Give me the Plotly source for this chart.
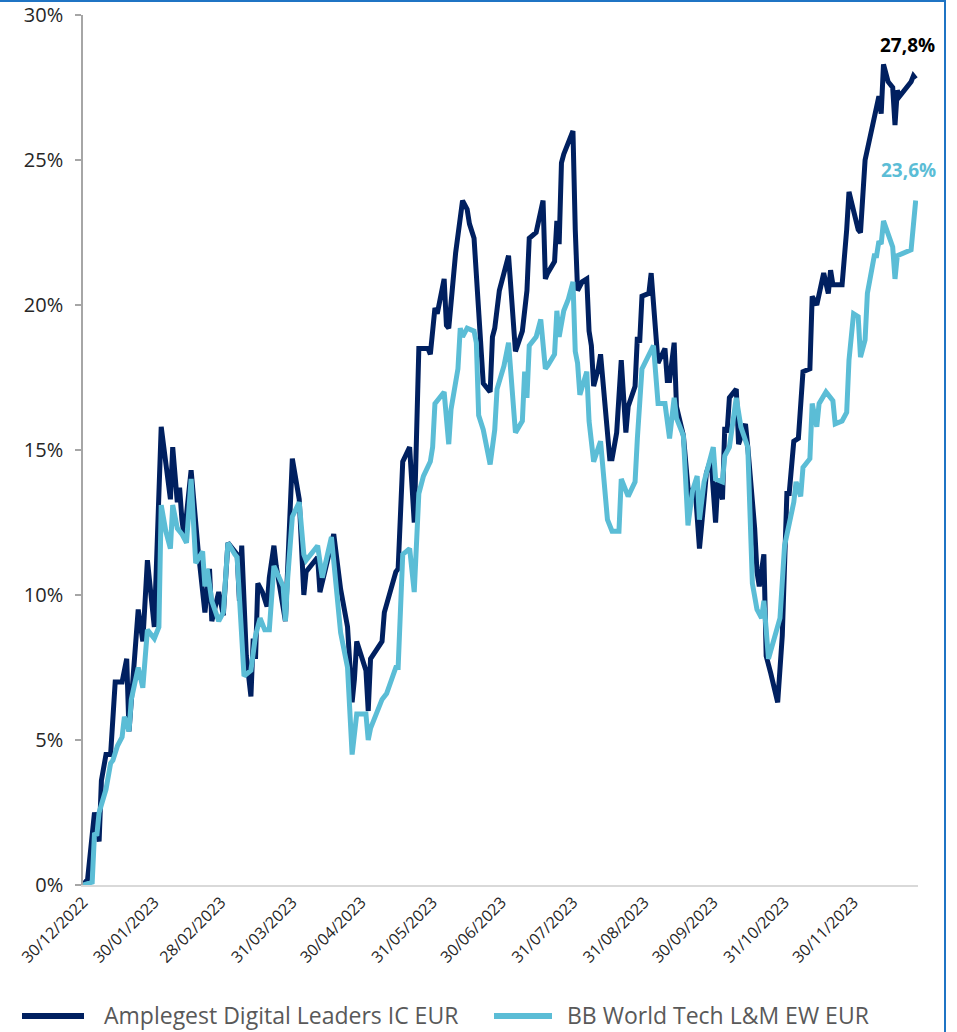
import plotly.graph_objects as go

# ---------------- data ----------------
dark_name = "Amplegest Digital Leaders IC EUR"
light_name = "BB World Tech L&M EW EUR"

dark_dates = [
    "2022-12-30", "2023-01-01", "2023-01-04", "2023-01-06", "2023-01-07", "2023-01-09", "2023-01-11",
    "2023-01-13", "2023-01-16", "2023-01-18", "2023-01-19", "2023-01-23", "2023-01-25", "2023-01-27",
    "2023-01-30", "2023-02-02", "2023-02-06", "2023-02-07", "2023-02-09", "2023-02-10", "2023-02-11",
    "2023-02-12", "2023-02-15", "2023-02-18", "2023-02-21", "2023-02-23", "2023-02-24", "2023-02-27",
    "2023-03-01", "2023-03-03", "2023-03-07", "2023-03-08", "2023-03-09", "2023-03-11", "2023-03-13",
    "2023-03-14", "2023-03-15", "2023-03-16", "2023-03-18", "2023-03-20", "2023-03-21", "2023-03-23",
    "2023-03-24", "2023-03-28", "2023-03-31", "2023-04-03", "2023-04-05", "2023-04-06", "2023-04-11",
    "2023-04-12", "2023-04-18", "2023-04-21", "2023-04-24", "2023-04-26", "2023-04-27", "2023-04-28",
    "2023-05-02", "2023-05-03", "2023-05-04", "2023-05-09", "2023-05-10", "2023-05-15", "2023-05-16",
    "2023-05-18", "2023-05-21", "2023-05-23", "2023-05-25", "2023-05-29", "2023-05-30", "2023-06-01",
    "2023-06-02", "2023-06-05", "2023-06-06", "2023-06-07", "2023-06-10", "2023-06-13", "2023-06-15",
    "2023-06-16", "2023-06-18", "2023-06-19", "2023-06-21", "2023-06-22", "2023-06-25", "2023-06-26",
    "2023-06-27", "2023-06-29", "2023-07-01", "2023-07-03", "2023-07-06", "2023-07-08", "2023-07-09",
    "2023-07-11", "2023-07-12", "2023-07-15", "2023-07-18", "2023-07-19", "2023-07-20", "2023-07-23",
    "2023-07-24", "2023-07-25", "2023-07-26", "2023-07-27", "2023-07-31", "2023-08-01", "2023-08-02",
    "2023-08-04", "2023-08-06", "2023-08-07", "2023-08-08", "2023-08-09", "2023-08-11", "2023-08-12",
    "2023-08-16", "2023-08-17", "2023-08-19", "2023-08-21", "2023-08-23", "2023-08-24", "2023-08-27",
    "2023-08-28", "2023-08-29", "2023-08-30", "2023-09-02", "2023-09-03", "2023-09-05", "2023-09-06",
    "2023-09-09", "2023-09-10", "2023-09-11", "2023-09-13", "2023-09-14", "2023-09-17", "2023-09-19",
    "2023-09-21", "2023-09-22", "2023-09-24", "2023-09-26", "2023-09-27", "2023-09-29", "2023-10-01",
    "2023-10-02", "2023-10-04", "2023-10-05", "2023-10-06", "2023-10-07", "2023-10-10", "2023-10-11",
    "2023-10-14", "2023-10-15", "2023-10-18", "2023-10-19", "2023-10-20", "2023-10-22", "2023-10-23",
    "2023-10-25", "2023-10-28", "2023-10-30", "2023-10-31", "2023-11-01", "2023-11-02", "2023-11-04",
    "2023-11-06", "2023-11-08", "2023-11-11", "2023-11-12", "2023-11-14", "2023-11-16", "2023-11-17",
    "2023-11-19", "2023-11-20", "2023-11-21", "2023-11-25", "2023-11-27", "2023-11-28", "2023-12-02",
    "2023-12-03", "2023-12-05", "2023-12-10", "2023-12-11", "2023-12-12", "2023-12-13", "2023-12-15",
    "2023-12-17", "2023-12-18", "2023-12-19", "2023-12-20", "2023-12-25", "2023-12-26", "2023-12-27",
]
dark_values = [
    0.0, 0.2, 2.5, 1.5, 3.6, 4.5, 4.5,
    7.0, 7.0, 7.8, 5.3, 9.5, 8.4, 11.2,
    8.9, 15.8, 13.3, 15.1, 13.2, 13.7, 12.6,
    12.0, 14.3, 11.6, 9.4, 10.9, 9.1, 10.1,
    9.3, 11.8, 11.4, 9.8, 11.7, 7.9, 6.5,
    8.5, 7.8, 10.4, 10.1, 9.6, 10.6, 11.7,
    11.0, 9.1, 14.7, 13.3, 10.0, 10.8, 11.3,
    10.1, 12.1, 10.2, 8.9, 6.3, 7.1, 8.4,
    7.4, 6.0, 7.8, 8.4, 9.4, 10.8, 10.9,
    14.6, 15.1, 12.5, 18.5, 18.5, 18.3, 19.9,
    19.7, 20.9, 19.3, 19.2, 21.8, 23.6, 23.3,
    22.8, 22.3, 20.9, 18.7, 17.3, 17.0, 18.9,
    19.2, 20.5, 21.1, 21.7, 18.4, 18.9, 19.1,
    20.5, 22.3, 22.5, 23.6, 20.9, 21.1, 21.5,
    22.9, 22.1, 24.9, 25.2, 26.0, 22.6, 20.5,
    20.8, 20.9, 19.1, 18.6, 17.2, 17.8, 18.3,
    14.7, 14.7, 15.6, 18.1, 15.6, 16.5, 17.2,
    18.9, 18.7, 20.3, 20.4, 21.1, 18.8, 18.0,
    18.5, 17.4, 17.4, 18.7, 16.5, 15.5, 13.7,
    13.3, 13.8, 11.6, 13.3, 14.2, 14.7, 12.5,
    13.9, 13.3, 15.8, 15.6, 16.8, 17.1, 15.2,
    15.9, 15.1, 12.3, 10.8, 10.3, 11.4, 7.9,
    7.3, 6.3, 8.6, 11.8, 13.5, 13.5, 15.3,
    15.4, 17.7, 17.8, 20.3, 20.0, 20.8, 21.1,
    20.4, 21.2, 20.7, 20.7, 22.6, 23.9, 22.6,
    22.5, 25.0, 26.8, 27.2, 26.6, 28.3, 27.7,
    27.5, 26.2, 27.4, 27.2, 27.7, 27.9, 27.8,
]

light_dates = [
    "2022-12-30", "2023-01-03", "2023-01-04", "2023-01-05", "2023-01-06", "2023-01-09", "2023-01-11",
    "2023-01-12", "2023-01-14", "2023-01-16", "2023-01-17", "2023-01-19", "2023-01-20", "2023-01-23",
    "2023-01-25", "2023-01-27", "2023-01-30", "2023-02-01", "2023-02-02", "2023-02-04", "2023-02-06",
    "2023-02-07", "2023-02-09", "2023-02-11", "2023-02-13", "2023-02-15", "2023-02-17", "2023-02-20",
    "2023-02-21", "2023-02-22", "2023-02-24", "2023-02-27", "2023-03-01", "2023-03-03", "2023-03-06",
    "2023-03-07", "2023-03-10", "2023-03-13", "2023-03-15", "2023-03-17", "2023-03-19", "2023-03-21",
    "2023-03-23", "2023-03-27", "2023-03-28", "2023-03-29", "2023-03-31", "2023-04-03", "2023-04-05",
    "2023-04-06", "2023-04-11", "2023-04-13", "2023-04-17", "2023-04-19", "2023-04-21", "2023-04-24",
    "2023-04-26", "2023-04-28", "2023-05-02", "2023-05-03", "2023-05-04", "2023-05-09", "2023-05-11",
    "2023-05-15", "2023-05-16", "2023-05-18", "2023-05-21", "2023-05-23", "2023-05-25", "2023-05-27",
    "2023-05-30", "2023-05-31", "2023-06-01", "2023-06-05", "2023-06-07", "2023-06-08", "2023-06-11",
    "2023-06-12", "2023-06-13", "2023-06-15", "2023-06-18", "2023-06-19", "2023-06-20", "2023-06-22",
    "2023-06-25", "2023-06-27", "2023-06-28", "2023-07-01", "2023-07-03", "2023-07-06", "2023-07-09",
    "2023-07-10", "2023-07-11", "2023-07-12", "2023-07-15", "2023-07-17", "2023-07-19", "2023-07-20",
    "2023-07-23", "2023-07-24", "2023-07-25", "2023-07-27", "2023-07-29", "2023-07-31", "2023-08-01",
    "2023-08-02", "2023-08-03", "2023-08-06", "2023-08-07", "2023-08-09", "2023-08-12", "2023-08-15",
    "2023-08-17", "2023-08-20", "2023-08-21", "2023-08-24", "2023-08-27", "2023-08-28", "2023-08-30",
    "2023-09-04", "2023-09-05", "2023-09-06", "2023-09-09", "2023-09-11", "2023-09-13", "2023-09-14",
    "2023-09-17", "2023-09-19", "2023-09-21", "2023-09-23", "2023-09-24", "2023-09-26", "2023-09-30",
    "2023-10-01", "2023-10-04", "2023-10-05", "2023-10-07", "2023-10-10", "2023-10-12", "2023-10-15",
    "2023-10-17", "2023-10-19", "2023-10-21", "2023-10-22", "2023-10-24", "2023-10-26", "2023-10-29",
    "2023-10-31", "2023-11-04", "2023-11-05", "2023-11-07", "2023-11-08", "2023-11-11", "2023-11-12",
    "2023-11-14", "2023-11-15", "2023-11-18", "2023-11-21", "2023-11-22", "2023-11-25", "2023-11-27",
    "2023-11-28", "2023-11-30", "2023-12-02", "2023-12-03", "2023-12-05", "2023-12-06", "2023-12-09",
    "2023-12-10", "2023-12-11", "2023-12-12", "2023-12-13", "2023-12-16", "2023-12-17", "2023-12-18",
    "2023-12-19", "2023-12-25", "2023-12-26", "2023-12-27",
]
light_values = [
    0.0, 0.1, 1.8, 1.7, 2.5, 3.3, 4.2,
    4.3, 4.8, 5.1, 5.8, 5.3, 6.4, 7.5,
    6.8, 8.8, 8.5, 8.9, 13.1, 12.2, 11.6,
    13.1, 12.3, 12.1, 11.8, 14.0, 11.1, 11.5,
    10.3, 10.9, 9.8, 9.1, 9.4, 11.8, 11.4,
    11.3, 7.2, 7.4, 8.6, 9.2, 8.8, 8.8,
    11.0, 10.3, 9.1, 10.6, 12.7, 13.2, 11.4,
    11.2, 11.7, 10.6, 12.0, 10.3, 8.7, 7.5,
    4.5, 5.9, 5.9, 5.0, 5.4, 6.4, 6.6,
    7.5, 7.5, 11.4, 11.6, 10.1, 13.5, 14.1,
    14.6, 15.1, 16.6, 17.0, 15.2, 16.4, 17.8,
    19.2, 18.9, 19.2, 19.1, 18.7, 16.2, 15.7,
    14.5, 15.7, 17.1, 17.9, 18.7, 15.6, 16.0,
    17.7, 16.8, 18.6, 18.9, 19.5, 17.8, 17.9,
    18.3, 19.8, 18.9, 19.8, 20.2, 20.8, 18.4,
    18.0, 16.9, 17.7, 16.0, 14.6, 15.3, 12.6,
    12.2, 12.2, 14.0, 13.4, 13.9, 15.4, 17.8,
    18.6, 17.4, 16.6, 16.6, 15.4, 16.8, 16.1,
    15.5, 12.4, 13.6, 14.1, 12.6, 13.9, 15.1,
    14.0, 13.9, 14.8, 15.1, 16.8, 15.8, 15.1,
    10.4, 9.5, 9.2, 9.8, 7.8, 8.4, 9.2,
    11.7, 13.2, 13.9, 13.4, 14.4, 14.7, 16.6,
    15.8, 16.6, 17.0, 16.7, 15.9, 16.0, 16.3,
    18.1, 19.7, 19.6, 18.2, 18.8, 20.4, 21.7,
    21.7, 22.2, 22.1, 22.9, 22.2, 22.0, 20.9,
    21.7, 21.9, 22.9, 23.6,
]

tick_dates = [
    "2022-12-30", "2023-01-30", "2023-02-28", "2023-03-31", "2023-04-30", "2023-05-31",
    "2023-06-30", "2023-07-31", "2023-08-31", "2023-09-30", "2023-10-31", "2023-11-30",
]
tick_labels = [
    "30/12/2022", "30/01/2023", "28/02/2023", "31/03/2023", "30/04/2023", "31/05/2023",
    "30/06/2023", "31/07/2023", "31/08/2023", "30/09/2023", "31/10/2023", "30/11/2023",
]
y_ticks = [0, 5, 10, 15, 20, 25, 30]
y_tick_labels = [f"{v}%" for v in y_ticks]
x_range = ["2022-12-30", "2023-12-28"]

# ---------------- style ----------------
DARK = "#002060"
LIGHT = "#5BBDD6"
FONT = "Open Sans"
W, H = 957, 1032
ML, MR, MT, MB = 83, 39, 15, 147
PW, PH = W - ML - MR, H - MT - MB


def px(xp):
    return (xp - ML) / PW


def py(yp):
    return (H - MB - yp) / PH


def fmt(v):
    return f"{v:.1f}%".replace(".", ",")


fig = go.Figure()
fig.add_trace(go.Scatter(x=dark_dates, y=dark_values, mode="lines", name=dark_name,
                         line=dict(color=DARK, width=5), showlegend=False))
fig.add_trace(go.Scatter(x=light_dates, y=light_values, mode="lines", name=light_name,
                         line=dict(color=LIGHT, width=5), showlegend=False))

# end-value labels
fig.add_annotation(x=dark_dates[-1], y=dark_values[-1], text=f"<b>{fmt(dark_values[-1])}</b>",
                   showarrow=False, xshift=-8, yshift=34,
                   font=dict(family=FONT, size=19, color="#000000"))
fig.add_annotation(x=light_dates[-1], y=light_values[-1], text=f"<b>{fmt(light_values[-1])}</b>",
                   showarrow=False, xshift=-7, yshift=31,
                   font=dict(family=FONT, size=19, color=LIGHT))

# custom legend (wide swatches like the reference)
legend_items = [(dark_name, DARK, 22, 84, 102), (light_name, LIGHT, 494, 552, 565)]
shapes = []
for name, col, x0, x1, xt in legend_items:
    shapes.append(dict(type="line", xref="paper", yref="paper", x0=px(x0), x1=px(x1),
                       y0=py(1016), y1=py(1016), line=dict(color=col, width=6)))
    fig.add_annotation(xref="paper", yref="paper", x=px(xt), y=py(1015), xanchor="left",
                       yanchor="middle", text=name, showarrow=False,
                       font=dict(family=FONT, size=23, color="#595959"))

# blue frame (top and right edges)
FRAME = "#1F74C4"
shapes.append(dict(type="line", xref="paper", yref="paper", x0=px(-5), x1=px(946),
                   y0=py(1), y1=py(1), line=dict(color=FRAME, width=2)))
shapes.append(dict(type="line", xref="paper", yref="paper", x0=px(945), x1=px(945),
                   y0=py(0), y1=py(1040), line=dict(color=FRAME, width=2)))

fig.update_layout(
    width=W, height=H,
    margin=dict(l=ML, r=MR, t=MT, b=MB, pad=0, autoexpand=False),
    paper_bgcolor="white", plot_bgcolor="white",
    font=dict(family=FONT, color="#262626"),
    shapes=shapes,
    showlegend=False,
)
fig.update_xaxes(type="date", range=x_range, tickvals=tick_dates, ticktext=tick_labels,
                 tickangle=-45, tickfont=dict(family=FONT, size=16, color="#262626"),
                 showgrid=False, zeroline=False, showline=True, linecolor="#D9D9D9",
                 linewidth=1.5, ticks="", automargin=False)
fig.update_yaxes(range=[0, 30], tickvals=y_ticks, ticktext=y_tick_labels,
                 tickfont=dict(family=FONT, size=20, color="#262626"),
                 showgrid=False, zeroline=False, showline=True, linecolor="#A6A6A6",
                 linewidth=1.5, ticks="outside", ticklen=6, tickcolor="#A6A6A6", tickwidth=1.5,
                 ticklabelstandoff=8, automargin=False)

fig.write_html("out.html", config={"displayModeBar": False},
               post_script="document.body.style.margin='0px';")
